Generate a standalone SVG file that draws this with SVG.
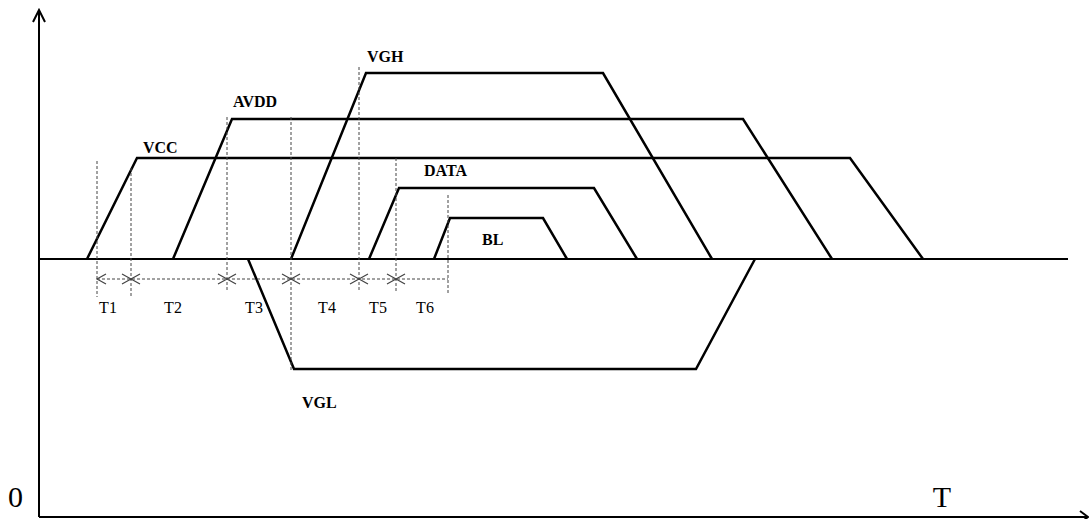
<svg xmlns="http://www.w3.org/2000/svg" width="1089" height="519" viewBox="0 0 1089 519">
<style>
.sig{fill:none;stroke:#000;stroke-width:2.5;stroke-linejoin:miter}
.ax{fill:none;stroke:#000;stroke-width:2}
.dash{fill:none;stroke:#444;stroke-width:1;stroke-dasharray:3,2}
.ah{fill:none;stroke:#444;stroke-width:1.2}
.lbl{font-family:"Liberation Serif",serif;font-weight:bold;font-size:16px;fill:#000}
.tl{font-family:"Liberation Serif",serif;font-size:16px;fill:#000;text-anchor:middle}
.big{font-family:"Liberation Serif",serif;font-size:30px;fill:#000;text-anchor:middle}
</style>
<rect width="1089" height="519" fill="#fff"/>
<g id="axes">
<path class="ax" d="M39,517 V10 M33,22 L39,10 L45,22"/>
<path class="ax" d="M39,517 H1087 M1080,511 L1088,517 L1080,523"/>
<path class="ax" d="M39,259 H1068"/>
<text class="big" x="15.5" y="507">0</text>
<text class="big" x="942" y="507">T</text>
</g>
<g id="VCC"><path class="sig" d="M87,259 L137,158 H850 L923,259"/><text class="lbl" x="143" y="153">VCC</text></g>
<g id="AVDD"><path class="sig" d="M173,259 L232,119 H743 L832,259"/><text class="lbl" x="233" y="107">AVDD</text></g>
<g id="VGH"><path class="sig" d="M291,259 L366,73 H603 L712,259"/><text class="lbl" x="367" y="62">VGH</text></g>
<g id="DATA"><path class="sig" d="M369,259 L399,188 H594 L637,259"/><text class="lbl" x="424" y="176">DATA</text></g>
<g id="BL"><path class="sig" d="M434,259 L450,218 H543 L567,259"/><text class="lbl" x="482" y="245">BL</text></g>
<g id="VGL"><path class="sig" d="M248,259 L294,369 H696 L755,259"/><text class="lbl" x="302" y="408">VGL</text></g>
<g id="connectors">
<path class="dash" d="M97,161 V297 M131,168 V297 M227,117 V292 M291,117 V372 M359,67 V292 M396,158 V293 M448,195 V295"/>
<path class="dash" d="M97,279 H448"/>
<path class="ah" d="M106,274 L97,279 L106,284 M122,274 L131,279 L122,284 M140,274 L131,279 L140,284 M218,274 L227,279 L218,284 M236,274 L227,279 L236,284 M282,274 L291,279 L282,284 M300,274 L291,279 L300,284 M350,274 L359,279 L350,284 M368,274 L359,279 L368,284 M387,274 L396,279 L387,284 M405,274 L396,279 L405,284"/>
</g>
<g id="intervals">
<text class="tl" x="108" y="313">T1</text>
<text class="tl" x="173" y="313">T2</text>
<text class="tl" x="254" y="313">T3</text>
<text class="tl" x="327" y="313">T4</text>
<text class="tl" x="378" y="313">T5</text>
<text class="tl" x="425" y="313">T6</text>
</g>
</svg>
